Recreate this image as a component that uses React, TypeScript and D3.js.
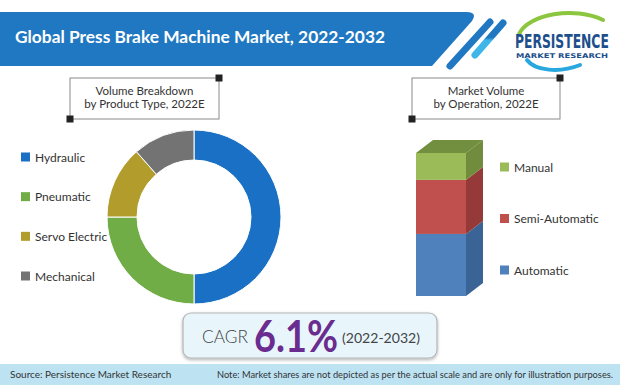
import React from "react";
import * as d3 from "d3";

const W = 620;
const H = 385;

// donut: volume by product type
const productTypes = ["Hydraulic", "Pneumatic", "Servo Electric", "Mechanical"];
const productShares = [50, 25, 13.5, 11.5];
const productColors = ["#1a70c4", "#70ad47", "#b29c2b", "#737373"];

// 3D stacked bar: volume by operation (bottom to top)
const operations = ["Automatic", "Semi-Automatic", "Manual"];
const operationShares = [43.4, 37.8, 18.8];
const opFront = ["#4f81bd", "#c0504d", "#9bbb59"];
const opSide = ["#3a6396", "#953a38", "#718c3c"];
const opTop = ["#5b8ccb", "#cd605d", "#718f3e"];

const titleText = "Global Press Brake Machine Market, 2022-2032";
const cagrValue = "6.1%";
const cagrPeriod = "(2022-2032)";

const bodyFont = "Lato, 'Open Sans', sans-serif";

function Donut() {
  const cx = 194, cy = 217;
  const pie = d3.pie<number>().sort(null).value((d) => d);
  const arc = d3.arc<d3.PieArcDatum<number>>().innerRadius(57).outerRadius(87);
  const arcs = pie(productShares);
  const legendY = d3.scalePoint<string>().domain(productTypes).range([157, 276]);
  return (
    <g>
      <g transform={`translate(${cx},${cy})`}>
        {arcs.map((a, i) => (
          <path key={i} d={arc(a) || ""} fill={productColors[i]} stroke="#fff" strokeWidth={1} />
        ))}
      </g>
      {productTypes.map((p, i) => (
        <g key={p} transform={`translate(21,${legendY(p)})`}>
          <rect x={0} y={-4.5} width={9} height={9} fill={productColors[i]} />
          <text x={14} y={4.5} fontSize={12} fill="#333" fontFamily={bodyFont}>{p}</text>
        </g>
      ))}
    </g>
  );
}

function Bar3D() {
  const x0 = 416, bw = 50, dx = 17, dy = -13;
  const y = d3.scaleLinear().domain([0, d3.sum(operationShares)]).range([296, 153]);
  const stacked = operationShares.map((v, i) => {
    const lo = d3.sum(operationShares.slice(0, i));
    return { lo, hi: lo + v };
  });
  const legendY = d3.scalePoint<string>().domain(operations).range([270, 167]);
  const top = stacked[stacked.length - 1];
  return (
    <g>
      {stacked.map((s, i) => {
        const yt = y(s.hi), yb = y(s.lo);
        return (
          <g key={i}>
            <rect x={x0} y={yt} width={bw} height={yb - yt} fill={opFront[i]} />
            <path
              d={`M${x0 + bw},${yb} L${x0 + bw + dx},${yb + dy} L${x0 + bw + dx},${yt + dy} L${x0 + bw},${yt} Z`}
              fill={opSide[i]}
            />
          </g>
        );
      })}
      <path
        d={`M${x0},${y(top.hi)} L${x0 + dx},${y(top.hi) + dy} L${x0 + bw + dx},${y(top.hi) + dy} L${x0 + bw},${y(top.hi)} Z`}
        fill={opTop[2]}
      />
      {operations.map((o, i) => (
        <g key={o} transform={`translate(500,${legendY(o)})`}>
          <rect x={0} y={-4.5} width={9} height={9} fill={opFront[i]} />
          <text x={14} y={4.5} fontSize={12} fill="#333" fontFamily={bodyFont}>{o}</text>
        </g>
      ))}
    </g>
  );
}

function LabelBox({ x, y, w, h, lines }: { x: number; y: number; w: number; h: number; lines: string[] }) {
  return (
    <g>
      <rect x={x} y={y} width={w} height={h} fill="#fff" stroke="#8a8a8a" strokeWidth={1} />
      <rect x={x + w - 3.5} y={y - 3.5} width={7} height={7} fill="#222" />
      <rect x={x - 3.5} y={y + h - 3.5} width={7} height={7} fill="#222" />
      {lines.map((l, i) => (
        <text key={i} x={x + w / 2} y={y + 17 + i * 13} textAnchor="middle" fontSize={11.5} fill="#333" fontFamily={bodyFont}>
          {l}
        </text>
      ))}
    </g>
  );
}

function Logo() {
  return (
    <g>
      <path d="M519,34 C528,14 575,6 603,20" fill="none" stroke="#8cc63f" strokeWidth={4} strokeLinecap="round" />
      <path d="M527,60 C535,71 560,73 580,65" fill="none" stroke="#29a8e0" strokeWidth={4} strokeLinecap="round" />
      <g transform="translate(515,48) scale(0.7,1)">
        <text x={0} y={0} fontSize={19} fontWeight={700} fill="#1d4f8c" fontFamily="'DejaVu Sans Condensed', 'Liberation Sans Narrow', sans-serif" textLength={134} lengthAdjust="spacingAndGlyphs">
          PERSISTENCE
        </text>
      </g>
      <text x={516} y={58} fontSize={6.5} fontWeight={700} fill="#1d4f8c" fontFamily="'DejaVu Sans', sans-serif" textLength={92} lengthAdjust="spacingAndGlyphs">
        MARKET RESEARCH
      </text>
    </g>
  );
}

export default function App() {
  return (
    <svg width={W} height={H} viewBox={`0 0 ${W} ${H}`} style={{ display: "block", position: "absolute", left: 0, top: 0 }}>
      <defs>
        <linearGradient id="stripe2" x1="0" y1="1" x2="0" y2="0">
          <stop offset="0" stopColor="#3fb6e8" />
          <stop offset="0.45" stopColor="#3fb6e8" />
          <stop offset="0.55" stopColor="#1f78c1" />
          <stop offset="1" stopColor="#1f78c1" />
        </linearGradient>
        <filter id="shadow" x="-10%" y="-20%" width="120%" height="150%">
          <feDropShadow dx="0" dy="1.5" stdDeviation="1.5" floodColor="#000" floodOpacity="0.3" />
        </filter>
      </defs>
      <rect width={W} height={H} fill="#fff" />

      {/* header banner */}
      <path d="M0,12 H466 Q478,12 472,21 L432,66 H0 Z" fill="#1f78c1" />
      <line x1={450} y1={66} x2={490} y2={22} stroke="#1f78c1" strokeWidth={7} strokeLinecap="round" />
      <line x1={475} y1={55} x2={503} y2={23} stroke="url(#stripe2)" strokeWidth={7} strokeLinecap="round" />
      <text x={15} y={43} fill="#fff" fontSize={17} fontWeight={700} fontFamily="Lato, 'DejaVu Sans', sans-serif" textLength={370} lengthAdjust="spacingAndGlyphs">
        {titleText}
      </text>
      <Logo />

      <LabelBox x={70} y={78} w={149} h={41} lines={["Volume Breakdown", "by Product Type, 2022E"]} />
      <LabelBox x={412} y={78} w={148} h={41} lines={["Market Volume", "by Operation, 2022E"]} />

      <Donut />
      <Bar3D />

      {/* CAGR box */}
      <rect x={183} y={313} width={254} height={45} rx={8} fill="#e8f6fc" stroke="#b5b5b5" strokeWidth={1.2} filter="url(#shadow)" />
      <text x={202} y={343} fontSize={18} fontWeight={300} fill="#444" fontFamily="Lato, sans-serif" textLength={46} lengthAdjust="spacingAndGlyphs">CAGR</text>
      <text x={254} y={352} fontSize={43} fontWeight={700} fill="#6a2c8f" fontFamily="Lato, sans-serif" textLength={84} lengthAdjust="spacingAndGlyphs">
        {cagrValue}
      </text>
      <text x={342} y={343} fontSize={14} fill="#444" fontFamily="Lato, sans-serif" textLength={78} lengthAdjust="spacingAndGlyphs">
        {cagrPeriod}
      </text>

      {/* footer */}
      <rect x={0} y={364} width={W} height={21} fill="#bde3f3" />
      <text x={10} y={378} fontSize={10} fill="#333" fontFamily={bodyFont}>Source: Persistence Market Research</text>
      <text x={217} y={378} fontSize={9} fill="#333" fontFamily={bodyFont} textLength={396} lengthAdjust="spacingAndGlyphs">
        Note: Market shares are not depicted as per the actual scale and are only for illustration purposes.
      </text>
    </svg>
  );
}
